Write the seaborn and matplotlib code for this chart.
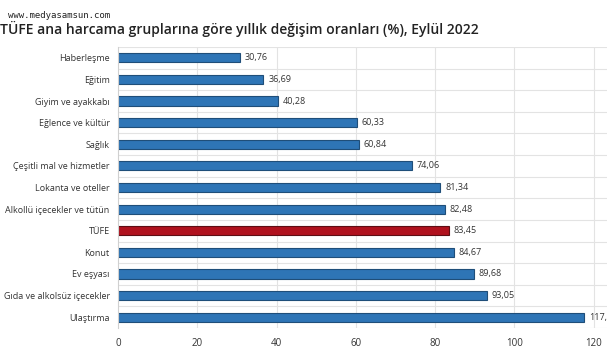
import matplotlib
matplotlib.use("Agg")
import matplotlib.pyplot as plt
import seaborn as sns
import pandas as pd

categories = ["Haberleşme", "Eğitim", "Giyim ve ayakkabı", "Eğlence ve kültür", "Sağlık",
              "Çeşitli mal ve hizmetler", "Lokanta ve oteller", "Alkollü içecekler ve tütün",
              "TÜFE", "Konut", "Ev eşyası", "Gıda ve alkolsüz içecekler", "Ulaştırma"]
values = [30.76, 36.69, 40.28, 60.33, 60.84, 74.06, 81.34, 82.48, 83.45, 84.67, 89.68, 93.05, 117.66]
xticks = [0, 20, 40, 60, 80, 100, 120]

BLUE = "#2e75b6"
RED = "#b0121e"
df = pd.DataFrame({"cat": categories, "val": values})
palette = {c: (RED if c == "TÜFE" else BLUE) for c in categories}

sns.set_style("white")
plt.rcParams["font.family"] = ["Open Sans", "DejaVu Sans"]

fig = plt.figure(figsize=(6.07, 3.6), dpi=100)
ax = fig.add_axes([118/607, 1-328/360, (673-118)/607, (328-47)/360])

sns.barplot(data=df, y="cat", x="val", hue="cat", palette=palette, order=categories,
            legend=False, width=0.42, ax=ax, edgecolor="#1f4e79", linewidth=0.8,
            saturation=1)
for p, c in zip(ax.patches, categories):
    if c == "TÜFE":
        p.set_edgecolor("#5e0e14")

ax.set_xlim(0, 140)
ax.set_ylim(12.5, -0.5)
ax.set_xticks(xticks)
ax.set_xticklabels([str(t) for t in xticks], fontsize=7, color="#333333")
ax.tick_params(axis="y", labelsize=6.5, labelcolor="#333333", length=0, pad=6)
ax.tick_params(axis="x", length=0, pad=7)
ax.set_xlabel("")
ax.set_ylabel("")

for x in [20, 40, 60, 80, 100, 120, 140]:
    ax.axvline(x, color="#e3e3e3", lw=0.8, zorder=0)
for y in range(0, 14):
    ax.axhline(y - 0.5, color="#e3e3e3", lw=0.8, zorder=0)
for s in ["top", "right", "bottom"]:
    ax.spines[s].set_visible(False)
ax.spines["left"].set_color("#d0d0d0")
ax.spines["left"].set_linewidth(0.8)

for i, v in enumerate(values):
    ax.text(v + 1.2, i, f"{v:.2f}".replace(".", ","), va="center", ha="left",
            fontsize=6.5, color="#333333")

fig.text(0.0, 1-29/360, "TÜFE ana harcama gruplarına göre yıllık değişim oranları (%), Eylül 2022",
         fontsize=10.0, fontweight="semibold", color="#222222", va="center", ha="left")
fig.text(8/607, 1-16/360, "www.medyasamsun.com", fontsize=6.5, family="DejaVu Sans Mono",
         color="#222222", va="center", ha="left")

fig.savefig("out.png", dpi=100)
